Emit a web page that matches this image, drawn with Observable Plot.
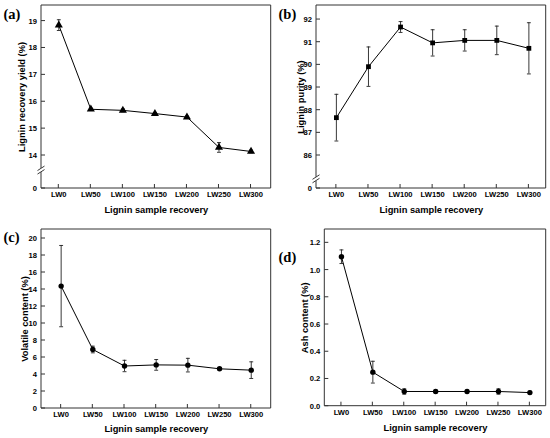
<!DOCTYPE html>
<html>
<head>
<meta charset="utf-8">
<script src="https://cdn.jsdelivr.net/npm/d3@7"></script>
<script src="https://cdn.jsdelivr.net/npm/@observablehq/plot@0.6"></script>
<style>
  body { margin: 0; background: #fff; }
  #wrap { position: relative; width: 550px; height: 438px; background: #fff; }
  .panel { position: absolute; width: 275px; height: 219px; }
</style>
</head>
<body>
<div id="wrap">
  <div class="panel" id="pa" style="left:0;top:0"></div>
  <div class="panel" id="pb" style="left:275px;top:0"></div>
  <div class="panel" id="pc" style="left:0;top:219px"></div>
  <div class="panel" id="pd" style="left:275px;top:219px"></div>
</div>
<script>
const categories = ["LW0", "LW50", "LW100", "LW150", "LW200", "LW250", "LW300"];

const yieldValues = [18.85, 15.72, 15.68, 15.56, 15.43, 14.30, 14.15];
const yieldErrors = [0.20, 0.04, 0.05, 0.04, 0.04, 0.18, 0.05];

const purityValues = [87.67, 89.92, 91.67, 90.97, 91.08, 91.08, 90.73];
const purityErrors = [1.03, 0.87, 0.24, 0.58, 0.47, 0.63, 1.13];

const volatileValues = [14.4, 6.94, 5.0, 5.13, 5.1, 4.67, 4.51];
const volatileErrors = [4.78, 0.39, 0.67, 0.63, 0.8, 0.1, 0.98];

const ashValues = [1.098, 0.25, 0.108, 0.108, 0.108, 0.108, 0.100];
const ashErrors = [0.05, 0.08, 0.02, 0.01, 0.01, 0.02, 0.01];

const yieldTicks = [0, 14, 15, 16, 17, 18, 19];
const purityTicks = [0, 86, 87, 88, 89, 90, 91, 92];
const volatileTicks = [0, 2, 4, 6, 8, 10, 12, 14, 16, 18, 20];
const ashTicks = [0, 0.2, 0.4, 0.6, 0.8, 1.0, 1.2];

const xTitle = "Lignin sample recovery";
const FRAME = "#333";

// error-bar cap glyph
const cap = {draw(ctx, size) { const w = Math.sqrt(size) / 2; ctx.moveTo(-w, 0); ctx.lineTo(w, 0); }};

// frame box and inward ticks, placed through the plot's own x and y scales
function frameAndTicks(xMin, xMax, yTop, xTickPos, yTickPos) {
  return (index, scales, values, dims) => {
    const x0 = scales.x(xMin), x1 = scales.x(xMax), y0 = scales.y(yTop), y1 = scales.y(0);
    const gr = d3.create("svg:g");
    gr.append("path")
      .attr("d", `M${x0},${y0}L${x1},${y0}L${x1},${y1}L${x0},${y1}Z`)
      .attr("stroke", FRAME).attr("fill", "none").attr("stroke-width", 1);
    let d = "";
    for (const p of xTickPos) { const px = scales.x(p); d += `M${px},${y1}L${px},${y1 - 4}`; }
    for (const t of yTickPos) { const py = scales.y(t); d += `M${x0},${py}L${x0 + 4},${py}`; }
    gr.append("path").attr("d", d).attr("stroke", FRAME).attr("fill", "none").attr("stroke-width", 1);
    return gr.node();
  };
}

function breakMark(pos) {
  return (index, scales, values, dims) => {
    const x = dims.marginLeft, y = scales.y(pos);
    const g = d3.create("svg:g");
    g.append("rect").attr("x", x - 2).attr("y", y - 2).attr("width", 4).attr("height", 4).attr("fill", "white");
    g.append("path")
      .attr("d", `M${x - 3.5},${y + 0.5}L${x + 3.5},${y - 4}M${x - 3.5},${y + 4}L${x + 3.5},${y - 0.5}`)
      .attr("stroke", "#222").attr("fill", "none").attr("stroke-width", 0.9);
    return g.node();
  };
}

function panel(el, cfg) {
  const b = cfg.brk;
  const g = b ? (v => v < b.at ? v * b.span / b.at : b.span + v - b.at) : (v => v);
  const data = categories.map((c, i) => ({i, cat: c, v: cfg.values[i], e: cfg.errors[i]}));
  const fmt = cfg.format || (d => String(d));
  const tickRows = cfg.ticks.map(t => ({pos: g(t), label: fmt(t)}));
  const xMin = -cfg.padL, xMax = categories.length - 1 + cfg.padR;
  const yTop = g(cfg.top);
  const marks = [
    // y axis labels
    Plot.text(tickRows, {y: "pos", text: "label", frameAnchor: "left", dx: -4.5, textAnchor: "end", lineAnchor: "middle"}),
    // x axis labels
    Plot.text(data, {x: "i", y: () => 0, text: "cat", dy: 3.5, lineAnchor: "top"}),
    // error bars
    Plot.ruleX(data, {x: "i", y1: d => g(d.v - d.e), y2: d => g(d.v + d.e), stroke: "#222", strokeWidth: 0.9}),
    Plot.dot(data, {x: "i", y: d => g(d.v - d.e), symbol: cap, r: 2.2, stroke: "#222", strokeWidth: 0.9}),
    Plot.dot(data, {x: "i", y: d => g(d.v + d.e), symbol: cap, r: 2.2, stroke: "#222", strokeWidth: 0.9}),
    // series
    Plot.line(data, {x: "i", y: d => g(d.v), stroke: "black", strokeWidth: 1}),
    Plot.dot(data, {x: "i", y: d => g(d.v), symbol: cfg.symbol, r: cfg.r, fill: "black", stroke: "none"}),
    // titles
    Plot.text([xTitle], {frameAnchor: "bottom", dy: cfg.xtDy, fontSize: 9.3, fontWeight: "bold", textAnchor: "middle", lineAnchor: "middle"}),
    Plot.text([cfg.yTitle], {frameAnchor: "left", dx: cfg.ytDx, rotate: -90, fontSize: 9.3, fontWeight: "bold", textAnchor: "middle", lineAnchor: "middle"}),
    Plot.text([cfg.tag], {frameAnchor: "top-left", dx: cfg.tagDx, dy: cfg.tagDy, fontSize: 14.5, fontWeight: "bold", fontFamily: "Liberation Serif", textAnchor: "start", lineAnchor: "top"}),
    // frame + ticks
    frameAndTicks(xMin, xMax, yTop, data.map(d => d.i), tickRows.map(t => t.pos))
  ];
  if (b) marks.push(breakMark(g(b.mark)));
  const chart = Plot.plot({
    width: 275,
    height: 219,
    marginLeft: cfg.ml,
    marginRight: 4.3,
    marginTop: cfg.mt,
    marginBottom: cfg.mb,
    style: {fontFamily: "Liberation Sans, Arial, sans-serif", fontSize: "7.6px", fontWeight: "bold", color: "black", background: "white", overflow: "visible"},
    x: {type: "linear", domain: [xMin, xMax], axis: null},
    y: {type: "linear", domain: [0, yTop], axis: null},
    marks
  });
  document.getElementById(el).appendChild(chart);
}

panel("pa", {
  values: yieldValues, errors: yieldErrors, ticks: yieldTicks,
  brk: {at: 13.1, span: 0.327, mark: 13.44}, top: 19.58,
  ml: 41, mt: 5, mb: 31, padL: 0.54, padR: 0.63, symbol: "triangle", r: 3.0,
  yTitle: "Lignin recovery yield (%)", ytDx: -19, xtDy: 22,
  tag: "(a)", tagDx: -38, tagDy: 3
});
panel("pb", {
  values: purityValues, errors: purityErrors, ticks: purityTicks,
  brk: {at: 84.8, span: 0.256, mark: 84.95}, top: 92.62,
  ml: 41, mt: 5, mb: 31, padL: 0.62, padR: 0.54, symbol: "square", r: 2.7,
  yTitle: "Lignin purity (%)", ytDx: -15, xtDy: 22,
  tag: "(b)", tagDx: -38, tagDy: 3
});
panel("pc", {
  values: volatileValues, errors: volatileErrors, ticks: volatileTicks, top: 21.06,
  ml: 41, mt: 10, mb: 30, padL: 0.62, padR: 0.63, symbol: "circle", r: 2.7,
  yTitle: "Volatile content (%)", ytDx: -16, xtDy: 21,
  tag: "(c)", tagDx: -38, tagDy: 2
});
panel("pd", {
  values: ashValues, errors: ashErrors, ticks: ashTicks, format: d3.format(".1f"), top: 1.298,
  ml: 49.3, mt: 10, mb: 32.3, padL: 0.53, padR: 0.52, symbol: "circle", r: 2.7,
  yTitle: "Ash content (%)", ytDx: -19.3, xtDy: 22.3,
  tag: "(d)", tagDx: -46.3, tagDy: 22
});
</script>
</body>
</html>
